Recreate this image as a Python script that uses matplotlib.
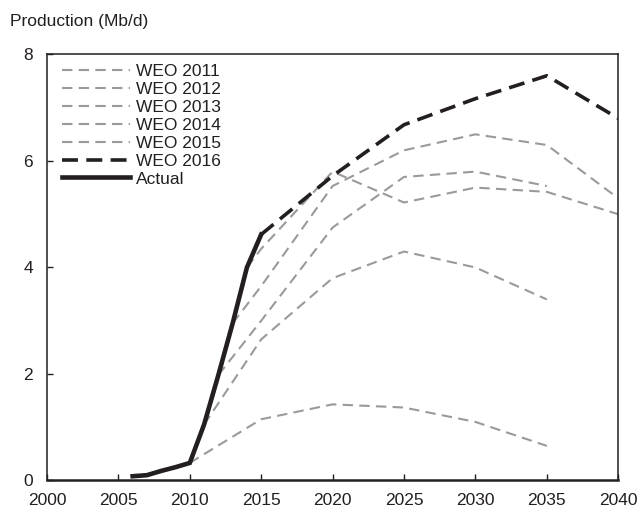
import matplotlib
matplotlib.use('Agg')
import matplotlib.pyplot as plt

plt.rcParams['font.family'] = ['Liberation Sans', 'DejaVu Sans']
plt.rcParams['lines.scale_dashes'] = False

# Actual production
actual_years = [2006, 2007, 2008, 2009, 2010, 2011, 2012, 2013, 2014, 2015]
actual = [0.08, 0.10, 0.18, 0.25, 0.33, 1.05, 1.98, 2.95, 4.0, 4.62]

# WEO projections
weo2011_years = [2010, 2015, 2020, 2025, 2030, 2035]
weo2011 = [0.33, 1.15, 1.43, 1.37, 1.1, 0.65]
weo2012_years = [2011, 2015, 2020, 2025, 2030, 2035]
weo2012 = [1.05, 2.65, 3.8, 4.3, 4.0, 3.4]
weo2013_years = [2012, 2015, 2020, 2025, 2030, 2035]
weo2013 = [1.98, 3.0, 4.75, 5.7, 5.8, 5.53]
weo2014_years = [2013, 2015, 2020, 2025, 2030, 2035, 2040]
weo2014 = [2.95, 3.65, 5.53, 6.2, 6.5, 6.3, 5.3]
weo2015_years = [2014, 2015, 2020, 2025, 2030, 2035, 2040]
weo2015 = [4.0, 4.35, 5.8, 5.22, 5.5, 5.42, 5.0]
weo2016_years = [2015, 2020, 2025, 2030, 2035, 2040]
weo2016 = [4.62, 5.72, 6.68, 7.17, 7.6, 6.8]

gray = '#9a9a9c'
black = '#231f20'

fig = plt.figure(figsize=(6.39, 5.09), dpi=100)
ax = fig.add_axes([0.0735, 0.056, 0.894, 0.837])

gray_series = [
    (weo2011_years, weo2011, 'WEO 2011'),
    (weo2012_years, weo2012, 'WEO 2012'),
    (weo2013_years, weo2013, 'WEO 2013'),
    (weo2014_years, weo2014, 'WEO 2014'),
    (weo2015_years, weo2015, 'WEO 2015'),
]
for yrs, vals, lab in gray_series:
    ax.plot(yrs, vals, color=gray, lw=1.5, dashes=(7.5, 4.5), label=lab)

ax.plot(weo2016_years, weo2016, color=black, lw=2.6, dashes=(11.5, 6), label='WEO 2016')
ax.plot(actual_years, actual, color=black, lw=3.3, solid_joinstyle='miter',
        label='Actual')

ax.set_xlim(2000, 2040)
ax.set_ylim(0, 8)
ax.set_xticks(range(2000, 2041, 5))
ax.set_yticks([0, 2, 4, 6, 8])
ax.tick_params(direction='in', length=4, width=1, labelsize=12.5, colors=black)
ax.tick_params(axis='y', pad=10)
ax.tick_params(axis='x', pad=9)

for s in ['left', 'right', 'top']:
    ax.spines[s].set_linewidth(1.1)
    ax.spines[s].set_color(black)
ax.spines['bottom'].set_linewidth(1.8)
ax.spines['bottom'].set_color(black)

fig.text(0.016, 0.957, 'Production (Mb/d)', fontsize=12.5, va='center', ha='left', color=black)

leg = ax.legend(loc='upper left', bbox_to_anchor=(0.027, 0.978), frameon=False,
                fontsize=12.5, handlelength=3.9, handletextpad=0.35,
                labelspacing=0.16, borderaxespad=0, borderpad=0)
for t in leg.get_texts():
    t.set_color(black)

fig.savefig('out.png', dpi=100)
